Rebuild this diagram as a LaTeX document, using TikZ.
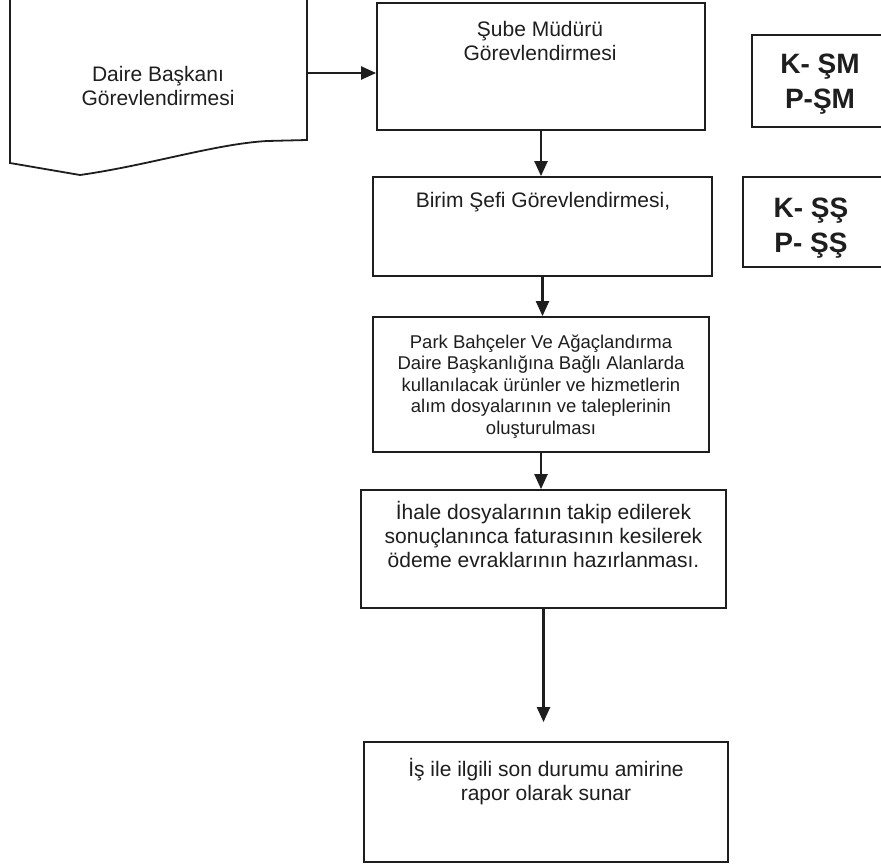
\documentclass[tikz,border=0pt]{standalone}
\usepackage{fontspec}
\setmainfont{Liberation Sans}
\usetikzlibrary{arrows.meta}
\definecolor{ink}{RGB}{30,30,30}
\begin{document}
\begin{tikzpicture}[x=1pt,y=-1pt,
  box/.style={draw=ink, line width=1.8pt, inner sep=0pt},
  txt/.style={font=\fontsize{21}{24}\selectfont, align=center, inner sep=0pt, anchor=base, text=ink},
  smalltxt/.style={font=\fontsize{18.5}{21.5}\selectfont, align=center, inner sep=0pt, anchor=base, text=ink},
  codetxt/.style={font=\fontsize{28}{35}\selectfont\bfseries, align=center, inner sep=0pt, anchor=base, text=ink},
  arr/.style={draw=ink, line width=2.2pt, -{Triangle[width=13pt,length=15pt]}}
]
\useasboundingbox (0,0) rectangle (881,863);
\fill[white] (0,0) rectangle (881,863);

% document shape
\node[inner sep=0pt, minimum width=297pt, minimum height=146pt] (doc) at (158.5,73) {};
\draw[ink, line width=1.8pt] (10,-10) -- (10,163) -- (80,175)
  .. controls (150,165) and (215,144) .. (267,141) -- (307,140) -- (307,-10);
\node[txt] (doctext) at (158,105) {Daire Başkanı\\Görevlendirmesi};

% boxes
\node[box, minimum width=328pt, minimum height=127pt] (b1) at (541,66.5) {};
\node[txt] (b1text) at (540,60) {Şube Müdürü\\Görevlendirmesi};

\node[box, minimum width=339pt, minimum height=99pt] (b2) at (542.5,226.5) {};
\node[txt] (b2text) at (543,207) {Birim Şefi Görevlendirmesi,};

\node[box, minimum width=336pt, minimum height=135pt] (b3) at (541,384.5) {};
\node[smalltxt] (b3text) at (541,434) {Park Bahçeler Ve Ağaçlandırma\\Daire Başkanlığına Bağlı Alanlarda\\kullanılacak ürünler ve hizmetlerin\\alım dosyalarının ve taleplerinin\\oluşturulması};

\node[box, minimum width=365pt, minimum height=118pt] (b4) at (543.5,549) {};
\node[txt] (b4text) at (543.5,567) {İhale dosyalarının takip edilerek\\sonuçlanınca faturasının kesilerek\\ödeme evraklarının hazırlanması.};

\node[box, minimum width=364pt, minimum height=120pt] (b5) at (546,802) {};
\node[txt] (b5text) at (546,800) {İş ile ilgili son durumu amirine\\rapor olarak sunar};

% code boxes
\node[box, minimum width=148pt, minimum height=92pt] (k1) at (826,81) {};
\node[codetxt] (k1text) at (820,108) {K- ŞM\\P-ŞM};

\node[box, minimum width=157pt, minimum height=90pt] (k2) at (821.5,222) {};
\node[codetxt] (k2text) at (811,252) {K- ŞŞ\\P- ŞŞ};

% connectors
\draw[arr] (doc.east) -- (b1.west |- doc.east);
\draw[arr] (b1.south) -- (b1.south |- b2.north);
\draw[arr] (b2.south) -- (b2.south |- b3.north);
\draw[arr] (b3.south) -- (b3.south |- b4.north);
\draw[arr, shorten >=19pt] (b4.south) -- (b4.south |- b5.north);
\end{tikzpicture}
\end{document}
